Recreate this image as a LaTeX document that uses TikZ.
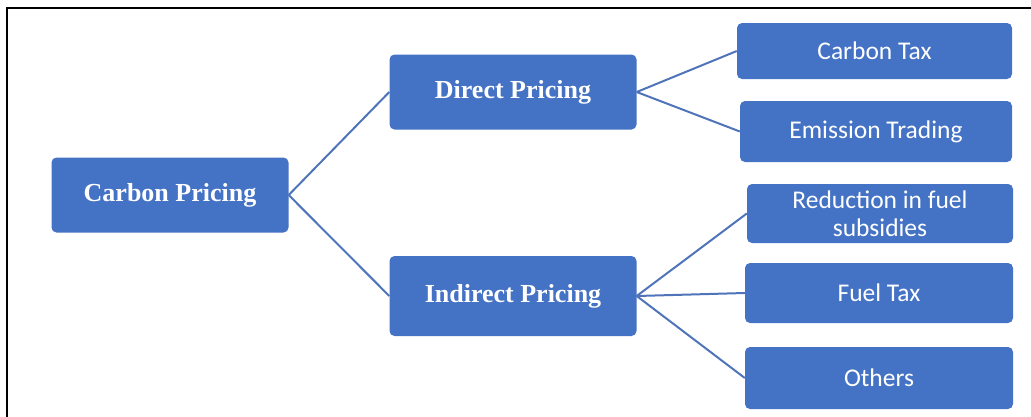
\documentclass[tikz,border=0pt]{standalone}
\usepackage{fontspec}
\setmainfont{Liberation Serif}
\newfontfamily\leaffont{Carlito}
\definecolor{boxblue}{HTML}{4472C4}
\definecolor{lineblue}{HTML}{4F74BA}
\tikzset{
  pricebox/.style = {fill=boxblue, rounded corners=5pt, text=white, inner sep=0pt,
                     font=\bfseries\fontsize{26}{30}\selectfont},
  leafbox/.style  = {fill=boxblue, rounded corners=5pt, text=white, inner sep=0pt,
                     align=center, font=\leaffont\fontsize{25.5}{29.5}\selectfont},
  link/.style     = {draw=lineblue, line width=2pt}
}
\begin{document}
\begin{tikzpicture}[x=1pt, y=-1pt]
  \begin{scope}
    %%+++++++++++++++++++++++++
    % Frame
    \useasboundingbox (0,0) rectangle (1031,416);
    \draw [line width=2.8pt, line cap=rect] (7,416) -- (7,8) -- (1031,8);
    %%+++++++++++++++++++++++++
    % Root
    \node[pricebox, minimum width=237pt, minimum height=75pt] (cp) at (170,195) {Carbon Pricing};
    % Second level
    \node[pricebox, minimum width=247pt, minimum height=75pt] (dp) at (513,92) {Direct Pricing};
    \node[pricebox, minimum width=247pt, minimum height=80pt] (ip) at (513,296) {Indirect Pricing};
    % Leaves: direct
    \node[leafbox, minimum width=275pt, minimum height=56pt] (ctax) at (874.5,51) {Carbon Tax};
    \node[leafbox, minimum width=272pt, minimum height=61pt] (ets) at (876,131.5) {Emission Trading};
    % Leaves: indirect
    \node[leafbox, minimum width=266pt, minimum height=59pt] (subs) at (880,213.5) {Reduction in fuel\\[-1pt]subsidies};
    \node[leafbox, minimum width=268pt, minimum height=60pt] (ftax) at (879,293) {Fuel Tax};
    \node[leafbox, minimum width=268pt, minimum height=62pt] (oth) at (879,378) {Others};
    %%+++++++++++++++++++++++++
    % Connectors
    \draw[link] (cp.east) -- (dp.west);
    \draw[link] (cp.east) -- (ip.west);
    \draw[link] (dp.east) -- (ctax.west);
    \draw[link] (dp.east) -- (ets.west);
    \draw[link] (ip.east) -- (subs.west);
    \draw[link] (ip.east) -- (ftax.west);
    \draw[link] (ip.east) -- (oth.west);
  \end{scope}
\end{tikzpicture}
\end{document}
